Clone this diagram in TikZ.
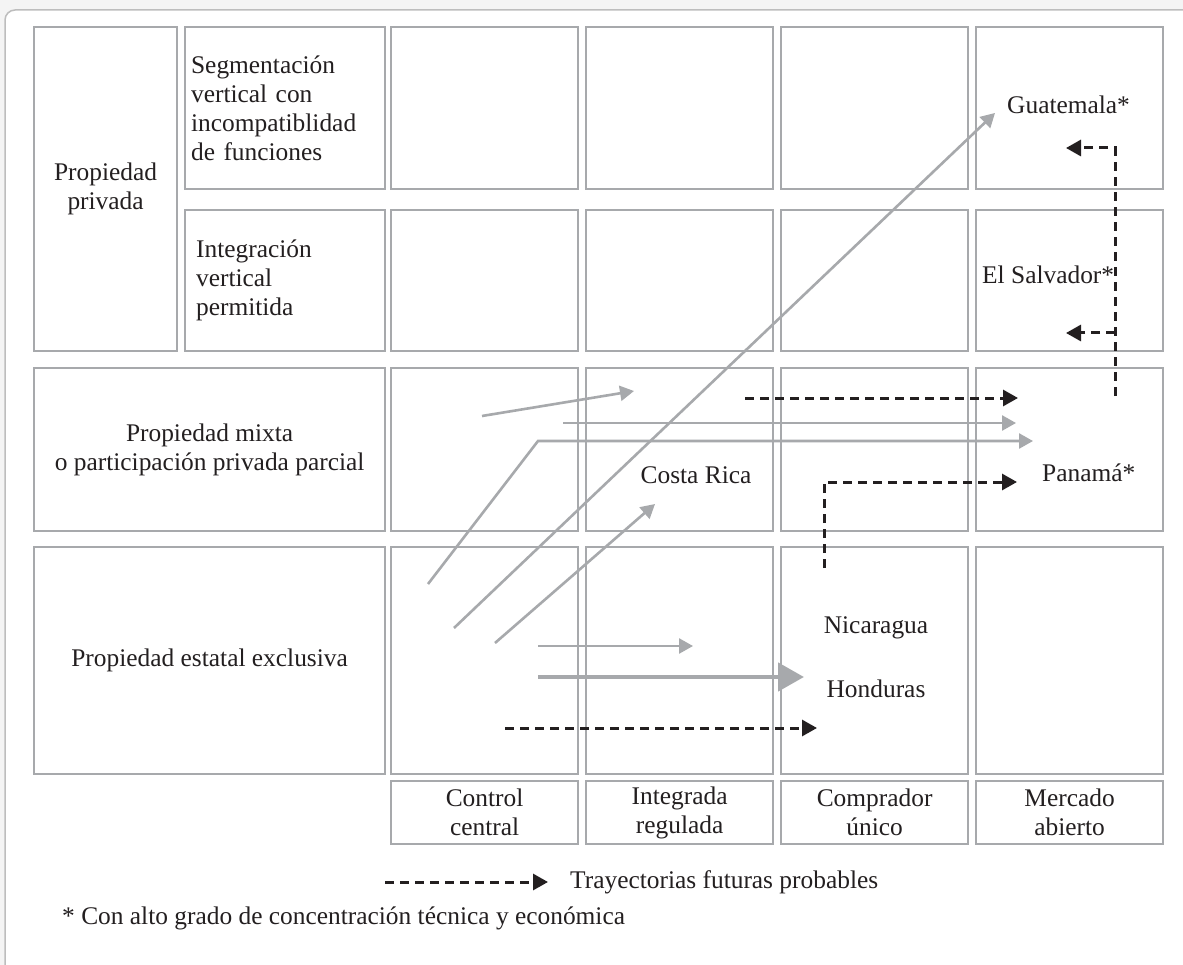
\documentclass[tikz,border=0pt]{standalone}
\usepackage{fontspec}
\setmainfont{Liberation Serif}
\usetikzlibrary{arrows.meta}
\definecolor{cellgray}{HTML}{A7A9AC}
\definecolor{arrgray}{HTML}{A7A9AC}
\definecolor{ink}{HTML}{231F20}
\definecolor{framegray}{HTML}{BDBDBD}
\definecolor{bggray}{HTML}{F4F4F4}
\begin{document}
\begin{tikzpicture}[x=1pt,y=-1pt,
  cell/.style={draw=cellgray, line width=2.2pt, rectangle, inner sep=0pt, anchor=north west,
    align=center, font=\fontsize{25.4}{29}\selectfont, text=ink},
  txt/.style={inner sep=0pt, font=\fontsize{25.4}{29}\selectfont, text=ink},
  garrow/.style={draw=arrgray, line width=2.6pt, -{Triangle[length=14pt,width=15pt]}},
  tharrow/.style={draw=arrgray, line width=4.7pt, -{Triangle[length=26pt,width=28pt]}},
  darrow/.style={draw=ink, line width=3pt, dash pattern=on 9pt off 6pt, -{Triangle[length=15pt,width=16pt]}},
  dline/.style={draw=ink, line width=3pt, dash pattern=on 9pt off 6pt},
]
\useasboundingbox (0,0) rectangle (1183,965);
\clip (0,0) rectangle (1183,965);
\fill[bggray] (0,0) rectangle (1183,965);
\draw[framegray, line width=1.5pt, fill=white, rounded corners=10pt] (5,10) rectangle (1240,1020);

% row headers
\node[cell, minimum width=143pt, minimum height=324pt] (A) at (33,26) {Propiedad\\privada};
\node[cell, minimum width=200pt, minimum height=162pt, align=left, text width=188pt] (B1) at (184,26)
  {Segmentación\\vertical con\\incompatiblidad\\de funciones};
\node[cell, minimum width=200pt, minimum height=141pt, align=left, text width=178pt] (B2) at (184,209)
  {Integración\\vertical\\permitida};
\node[cell, minimum width=351pt, minimum height=163pt] (R3) at (33,367) {Propiedad mixta\\o participación privada parcial};
\node[cell, minimum width=351pt, minimum height=227pt] (R4) at (33,546) {Propiedad estatal exclusiva};

% grid cells
\foreach \cx/\ci in {390/1,585/2,780/3,975/4}{
  \foreach \ry/\rh/\rj in {26/162/1,209/141/2,367/163/3,546/227/4}{
    \node[cell, minimum width=187pt, minimum height=\rh pt] (c-\ci-\rj) at (\cx,\ry) {};
  }
}
% column labels
\node[cell, minimum width=187pt, minimum height=63pt] (L1) at (390,780) {Control\\central};
\node[cell, minimum width=187pt, minimum height=63pt] (L2) at (585,780) {Integrada\\regulada};
\node[cell, minimum width=187pt, minimum height=63pt] (L3) at (780,780) {Comprador\\único};
\node[cell, minimum width=187pt, minimum height=63pt] (L4) at (975,780) {Mercado\\abierto};

% country labels
\node[txt, anchor=west] (gua) at (1007,105) {Guatemala*};
\node[txt, anchor=west] (sal) at (982,275) {El Salvador*};
\node[txt, anchor=west] (pan) at (1042,473) {Panamá*};
\node[txt] (cr) at (696,475) {Costa Rica};
\node[txt] (nic) at (876,628) {Nicaragua};
\node[txt] (hon) at (876,689) {Honduras};

% arrow end points
\coordinate (g1s) at (482,416); \coordinate (g1e) at (634,391);
\coordinate (g2s) at (563,423); \coordinate (g2e) at (1016,423);
\coordinate (g3s) at (428,584); \coordinate (g3m) at (538,441); \coordinate (g3e) at (1033,441);
\coordinate (g4s) at (454,628); \coordinate (g4e) at (995,113);
\coordinate (g5s) at (495,643); \coordinate (g5e) at (655,504);
\coordinate (g6s) at (538,646); \coordinate (g6e) at (693,646);
\coordinate (g7s) at (538,677); \coordinate (g7e) at (804,677);
\coordinate (d1s) at (745,398); \coordinate (d1e) at (1018,398);
\coordinate (d2s) at (824,568); \coordinate (d2m) at (824,482); \coordinate (d2e) at (1017,482);
\coordinate (d3s) at (505,728); \coordinate (d3e) at (817,728);
\coordinate (d4s) at (1115,396); \coordinate (d4m) at (1115,148); \coordinate (d4e) at (1066,148);
\coordinate (d5s) at (1115,333); \coordinate (d5e) at (1066,333);

% gray arrows
\draw[garrow] (g1s) -- (g1e);
\draw[garrow] (g2s) -- (g2e);
\draw[garrow] (g3s) -- (g3m) -- (g3e);
\draw[garrow] (g4s) -- (g4e);
\draw[garrow] (g5s) -- (g5e);
\draw[garrow] (g6s) -- (g6e);
\draw[tharrow] (g7s) -- (g7e);

% dashed arrows
\draw[darrow] (d1s) -- (d1e);
\draw[darrow] (d2s) -- (d2m) -- (d2e);
\draw[darrow] (d3s) -- (d3e);
\draw[darrow] (d4s) -- (d4m) -- (d4e);
\draw[darrow] (d5s) -- (d5e);

% legend
\node[txt, anchor=west] (legtxt) at (570,882) {Trayectorias futuras probables};
\coordinate (legs) at (385,882);
\draw[darrow] (legs) -- ([xshift=-22pt]legtxt.west);

\node[txt, anchor=west] (foot) at (62,918) {* Con alto grado de concentración técnica y económica};
\end{tikzpicture}
\end{document}
